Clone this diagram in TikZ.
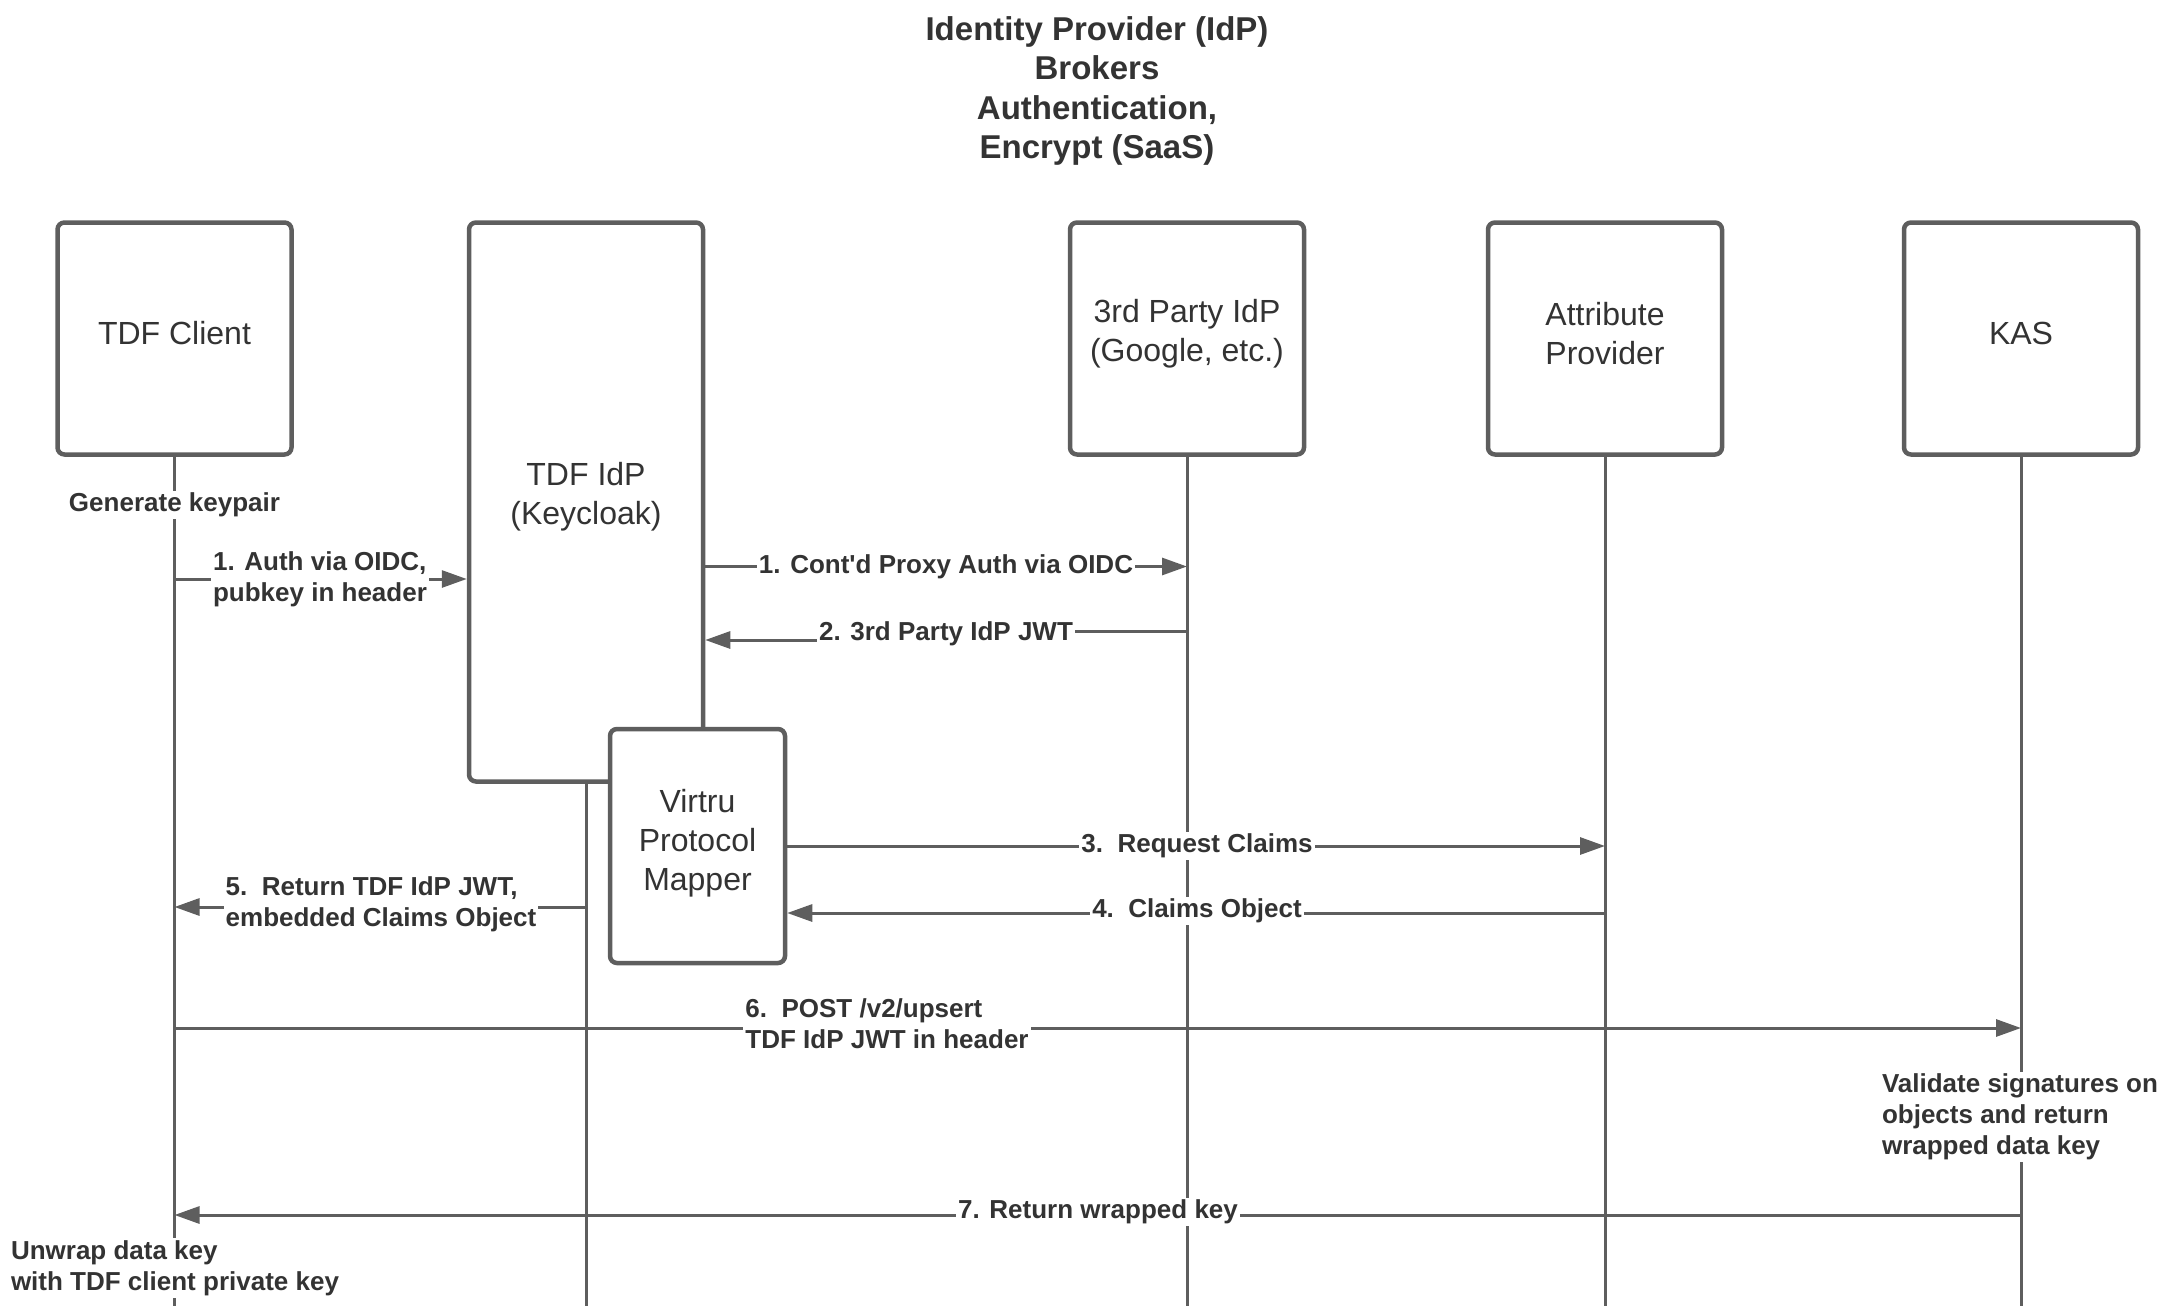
\documentclass[tikz,border=0pt]{standalone}
\usepackage{fontspec}
\setmainfont{Liberation Sans}
\usetikzlibrary{arrows.meta}
\definecolor{ln}{HTML}{5E5E5E}
\definecolor{tx}{HTML}{333333}
\begin{document}
\begin{tikzpicture}[x=1pt,y=-1pt,
  actor/.style={draw=ln,line width=4.5pt,rounded corners=7pt,fill=white,inner sep=0pt},
  boxtext/.style={text=tx,align=center,inner sep=0pt,yshift=5pt,font=\fontsize{32}{39}\selectfont},
  life/.style={draw=ln,line width=3pt},
  msg/.style={draw=ln,line width=3pt,-{Triangle[length=25pt,width=17pt]}},
  lbl/.style={fill=white,text=tx,inner sep=2pt,font=\bfseries\fontsize{26}{31}\selectfont},
  ttl/.style={text=tx,align=center,inner sep=0pt,font=\bfseries\fontsize{33}{39.5}\selectfont}
]
\useasboundingbox (0,0) rectangle (2172,1306);
\coordinate (bot) at (0,1306);

% actors
\node[actor,minimum width=234,minimum height=232,label={[boxtext]center:TDF Client}] (client) at (174.5,338.5) {};
\node[actor,minimum width=234,minimum height=559,label={[boxtext]center:{TDF IdP\\(Keycloak)}}] (idp) at (586,502) {};
\node[actor,minimum width=234,minimum height=232,label={[boxtext]center:{3rd Party IdP\\(Google, etc.)}}] (third) at (1187,338.5) {};
\node[actor,minimum width=234,minimum height=232,label={[boxtext]center:{Attribute\\Provider}}] (attr) at (1605,338.5) {};
\node[actor,minimum width=234,minimum height=232,label={[boxtext]center:KAS}] (kas) at (2021,338.5) {};

% lifelines
\draw[life] (client.south) -- (client.south |- bot);
\draw[life] (idp.south) -- (idp.south |- bot);
\draw[life] (third.south) -- (third.south |- bot);
\draw[life] (attr.south) -- (attr.south |- bot);
\draw[life] (kas.south) -- (kas.south |- bot);

\node[actor,minimum width=175,minimum height=234,label={[boxtext,yshift=-2pt]center:{Virtru\\Protocol\\Mapper}}] (mapper) at (697.5,846) {};

% title
\node[ttl] (title) at (1097,91) {Identity Provider (IdP)\\Brokers\\Authentication,\\Encrypt (SaaS)};

% message rows
\coordinate (y1) at (0,579);
\coordinate (y1b) at (0,566.5);
\coordinate (y2a) at (0,631.5);
\coordinate (y2b) at (0,640);
\coordinate (y3) at (0,846);
\coordinate (y4) at (0,913);
\coordinate (y5) at (0,907);
\coordinate (y6) at (0,1028);
\coordinate (y7) at (0,1215);
\coordinate (k2a) at (946,631.5);
\coordinate (k2b) at (946,640);

\draw[msg] (client |- y1) -- (idp.west |- y1);
\draw[msg] (idp.east |- y1b) -- (third |- y1b);
\draw[msg] (third |- y2a) -- (k2a) -- (k2b) -- (idp.east |- y2b);
\draw[msg] (mapper.east |- y3) -- (attr |- y3);
\draw[msg] (attr |- y4) -- (mapper.east |- y4);
\draw[msg] (idp |- y5) -- (client |- y5);
\draw[msg] (client |- y6) -- (kas |- y6);
\draw[msg] (kas |- y7) -- (client |- y7);

% labels
\node[lbl] (gen) at (174.5,505) {Generate keypair};
\node[lbl,align=left] (l1) at (320,579) {1. Auth via OIDC,\\pubkey in header};
\node[lbl] (l1b) at (946,566.5) {1. Cont\textquotesingle d Proxy Auth via OIDC};
\node[lbl] (l2) at (946,634) {2. 3rd Party IdP JWT};
\node[lbl] (l3) at (1197,846) {3.\ \ Request Claims};
\node[lbl] (l4) at (1197,911) {4.\ \ Claims Object};
\node[lbl,align=left] (l5) at (381,904) {5.\ \ Return TDF IdP JWT,\\embedded Claims Object};
\node[lbl,align=left] (l6) at (887,1024) {6.\ \ POST /v2/upsert\\TDF IdP JWT in header};
\node[lbl,align=left] (val) at (2020,1117) {Validate signatures on\\objects and return\\wrapped data key};
\node[lbl] (l7) at (1098,1212) {7. Return wrapped key};
\node[lbl,align=left] (unw) at (175,1268) {Unwrap data key\\with TDF client private key};
\end{tikzpicture}
\end{document}
